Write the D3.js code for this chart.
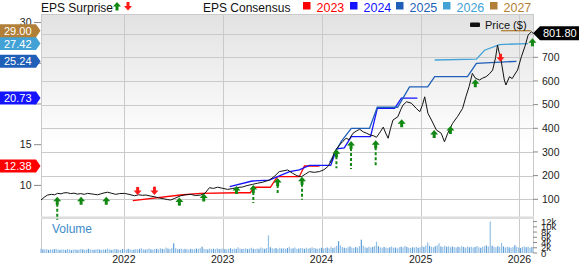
<!DOCTYPE html>
<html><head><meta charset="utf-8">
<script src="https://cdn.jsdelivr.net/npm/d3@7"></script>
<style>body{margin:0;background:#fff}svg{display:block;font-family:"Liberation Sans",Arial,sans-serif}</style>
</head><body>
<svg id="c" width="579" height="264"></svg>
<script>
// ---------- DATA ----------
const years = ["2022","2023","2024","2025","2026"];
const priceTicks = [100,200,300,400,500,600,700];
const epsTicks = [10,15,20,25,30];
const epsTickLabels = ["10","15","","","30"]; // 20 and 25 sit under the badges
const volTicks = [0,2,4,6,8,10,12];
const lastPrice = 801.80;

const priceDates = ["2021-03-01","2021-03-12","2021-03-25","2021-04-09","2021-04-20","2021-05-01","2021-05-14","2021-05-24","2021-06-06","2021-06-18","2021-07-01","2021-07-13","2021-07-26","2021-08-08","2021-08-20","2021-09-02","2021-09-14","2021-09-26","2021-10-08","2021-10-20","2021-11-02","2021-11-15","2021-12-02","2021-12-16","2022-01-03","2022-01-20","2022-02-09","2022-02-24","2022-03-10","2022-03-24","2022-04-08","2022-04-23","2022-05-10","2022-05-29","2022-06-10","2022-06-23","2022-07-08","2022-07-30","2022-08-15","2022-09-05","2022-09-22","2022-10-12","2022-10-28","2022-11-13","2022-11-28","2022-12-13","2022-12-30","2023-01-19","2023-02-05","2023-02-25","2023-03-15","2023-04-01","2023-04-21","2023-05-10","2023-05-28","2023-06-22","2023-07-10","2023-07-29","2023-08-12","2023-08-29","2023-09-16","2023-10-02","2023-10-18","2023-11-02","2023-11-17","2023-12-05","2023-12-24","2024-01-10","2024-01-24","2024-02-08","2024-02-18","2024-03-07","2024-03-20","2024-04-01","2024-04-12","2024-04-26","2024-05-08","2024-05-21","2024-06-03","2024-06-16","2024-06-28","2024-07-12","2024-07-22","2024-08-05","2024-08-16","2024-08-25","2024-09-03","2024-09-12","2024-09-21","2024-10-09","2024-10-20","2024-10-28","2024-11-10","2024-11-28","2024-12-16","2024-12-29","2025-01-08","2025-01-16","2025-01-28","2025-02-10","2025-02-28","2025-03-18","2025-03-30","2025-04-11","2025-04-29","2025-05-17","2025-06-05","2025-06-17","2025-06-29","2025-07-11","2025-07-22","2025-08-06","2025-08-18","2025-08-31","2025-09-12","2025-09-24","2025-10-05","2025-10-12","2025-10-18","2025-10-25","2025-11-06","2025-11-12","2025-11-25","2025-12-05","2025-12-13","2025-12-25","2026-01-08","2026-01-21","2026-02-02","2026-02-14","2026-02-20"];
const priceValues = [97,108,118,121,119,125,123,127,128,124,126,122,124,121,125,123,121,119,123,127,130,126,121,124,125,121,115,119,117,118,114,111,106,102,99,97,104,115,119,121,116,118,126,149,146,151,147,142,145,150,152,158,163,168,172,181,196,217,220,224,210,200,195,206,217,214,217,225,238,265,301,329,345,358,352,379,388,396,385,379,372,368,362,385,405,380,358,400,435,449,480,498,512,506,484,470,500,533,463,435,393,379,343,379,421,449,484,533,576,632,612,604,612,618,630,646,700,752,720,688,604,583,618,610,625,646,702,745,794,808,801.8];

const cons2023Dates = ["2022-02-03","2022-07-29","2022-10-11","2023-02-26","2023-04-13","2023-04-24","2023-06-26","2023-07-22","2023-10-11","2023-10-30","2023-12-24"];
const cons2023Values = [8.12,8.82,9.03,9.10,9.10,9.77,9.77,11.07,11.07,12.38,12.38];
const cons2024Dates = ["2023-01-27","2023-04-20","2023-06-22","2023-09-05","2023-10-11","2023-11-17","2024-02-04","2024-02-26","2024-03-25","2024-04-20","2024-06-30","2024-07-25","2024-09-27","2024-10-22","2024-12-20"];
const cons2024Values = [9.84,10.54,10.66,11.68,11.90,12.45,12.45,14.5,14.6,16.0,16.0,19.47,19.47,20.73,20.73];
const cons2025Dates = ["2024-01-31","2024-03-14","2024-04-20","2024-06-26","2024-07-25","2024-10-08","2024-11-21","2025-01-27","2025-02-22","2025-06-23","2025-07-26","2025-12-21"];
const cons2025Values = [12.8,15.4,17.0,17.0,19.6,19.6,22.1,22.1,23.35,23.35,25.0,25.24];
const cons2026Dates = ["2025-02-22","2025-07-26","2025-08-25","2025-10-19","2026-02-01"];
const cons2026Values = [25.4,25.5,26.6,27.3,27.42];
const cons2027Dates = ["2025-10-25","2026-02-12"];
const cons2027Values = [29.0,29.0];
const consLabels = ["2023","2024","2025","2026","2027"];
const consColors = ["#ff0000","#1414ff","#1f5fb8","#42a2d6","#b27f38"];
const consLast = [12.38,20.73,25.24,27.42,29.00];

const upDates = ["2021-04-30","2021-07-27","2021-10-28","2022-07-25","2022-10-23","2023-02-21","2023-04-24","2023-07-23","2023-10-21","2024-02-25","2024-04-19","2024-07-19","2024-10-23","2025-02-20","2025-04-21","2025-07-22","2026-02-18"];
const upLevels = [111,111,111,108,125,156,160,190,195,311,346,350,438,393,410,607,780];
const upSurprise = [21,4,4,6,4,3,16,13,21,17,26,25,4,3,2,3,3];
const downDates = ["2022-02-21","2022-04-24","2025-10-23"];
const downLevels = [118,118,681];
const downSurprise = [-4,-8,-3];

const volume = [1.6,1.4,1.3,1.5,1.2,1.4,1.3,1.5,1.6,1.3,1.2,1.4,1.3,1.2,1.5,1.3,1.1,1.3,1.4,1.2,
1.3,1.5,1.4,1.2,1.3,1.6,1.4,1.3,1.2,1.4,1.5,1.3,1.2,1.4,1.3,1.7,1.4,1.2,1.3,1.5,
1.4,1.3,1.2,1.5,1.4,1.3,1.6,1.4,1.2,1.3,1.5,1.4,1.6,1.8,1.4,1.3,1.5,1.7,1.4,1.3,
1.5,1.6,1.4,1.8,1.6,1.5,2.1,1.7,1.5,1.9,3.7,1.8,1.6,1.5,1.7,1.4,1.6,1.5,1.3,1.6,
1.5,1.4,1.7,1.6,1.8,2.4,1.6,1.5,1.4,1.7,1.5,1.6,1.4,1.8,1.5,1.6,1.7,1.5,1.4,1.6,
1.8,1.5,1.7,1.6,2.2,1.7,1.5,1.6,1.8,1.5,1.7,2.0,1.6,1.5,1.7,1.6,2.1,1.8,1.6,1.9,
6.7,2.2,1.8,1.7,1.9,1.6,2.0,1.7,1.8,1.6,1.9,2.3,1.7,1.8,2.1,1.6,1.7,1.9,1.8,1.6,
2.0,1.7,1.8,2.2,1.9,1.7,1.6,1.8,2.0,1.7,1.9,2.1,1.8,2.4,1.9,2.2,2.8,4.5,2.9,2.3,
2.0,1.9,2.2,2.5,2.1,1.9,2.3,2.0,2.6,5.1,2.8,2.2,2.0,2.4,2.1,2.3,2.7,4.3,2.6,2.2,
2.0,2.3,2.1,1.9,2.2,2.5,2.0,2.1,1.8,2.2,2.4,2.1,2.7,2.3,2.0,1.9,2.2,2.1,2.4,2.0,
2.2,2.6,2.3,2.9,4.0,2.7,2.4,2.2,2.6,2.9,3.7,2.5,2.3,2.8,2.4,2.6,2.2,2.5,2.3,2.1,
2.4,2.2,2.6,2.3,2.0,2.5,2.2,2.4,2.1,2.3,2.7,2.2,2.0,2.4,2.6,2.9,2.5,12.0,2.8,2.4,
2.2,2.6,2.3,3.8,2.5,2.1,2.4,2.2,2.0,2.3,3.0,2.4,2.1,1.9,2.3,2.5,2.2,2.4,2.0,2.3];
const volumeStart = "2021-03-01";

// ---------- LAYOUT ----------
const L = 41, R = 533, T = 14, PB = 217, VT = 220, VB = 253;
const parse = d3.timeParse("%Y-%m-%d");
const svg = d3.select("#c");
const FONT = '"Liberation Sans", Arial, sans-serif';

const x = d3.scaleTime().domain([parse("2021-03-01"), parse("2026-02-20")]).range([L, R]);
const yP = d3.scaleLinear().domain([100, 700]).range([199.3, 57.3]);
const yE = d3.scaleLinear().domain([10, 29]).range([185.4, 30.7]);
const yV = d3.scaleLinear().domain([0, 12]).range([VB, 221.6]);

const defs = svg.append("defs");
const grad = defs.append("linearGradient").attr("id","bg").attr("x1",0).attr("y1",0).attr("x2",0).attr("y2",1);
grad.append("stop").attr("offset","0%").attr("stop-color","#e2e2e2");
grad.append("stop").attr("offset","65%").attr("stop-color","#ffffff");
defs.append("clipPath").attr("id","clipP").append("rect").attr("x",L).attr("y",T).attr("width",R-L).attr("height",PB-T);

svg.append("rect").attr("x",L).attr("y",T).attr("width",R-L).attr("height",PB-T).attr("fill","url(#bg)");

// gridlines
const grid = svg.append("g").attr("stroke","#cacaca").attr("stroke-width",1).attr("shape-rendering","crispEdges");
[...priceTicks, 800].forEach(v => grid.append("line").attr("x1",L).attr("x2",R).attr("y1",Math.round(yP(v))+0.5).attr("y2",Math.round(yP(v))+0.5));
grid.append("line").attr("x1",L).attr("x2",R).attr("y1",T+0.5).attr("y2",T+0.5);
years.forEach(yr => { const xx = Math.round(x(parse(yr+"-01-01")))+0.5; grid.append("line").attr("x1",xx).attr("x2",xx).attr("y1",T).attr("y2",VB); });
grid.append("line").attr("x1",L+0.5).attr("x2",L+0.5).attr("y1",T).attr("y2",VB);
grid.append("line").attr("x1",R+0.5).attr("x2",R+0.5).attr("y1",T).attr("y2",VB);
svg.append("rect").attr("x",L).attr("y",PB-0.5).attr("width",R-L+1).attr("height",2.5).attr("fill","#dcdcdc");

// volume
const vg = svg.append("g");
const v0 = parse(volumeStart);
vg.selectAll("rect").data(volume).join("rect")
  .attr("x",(d,i)=> x(d3.timeDay.offset(v0, 7*i)) - 0.6)
  .attr("width",1.2)
  .attr("y",d=>yV(d)).attr("height",d=>VB-yV(d))
  .attr("fill",(d,i)=> i%3===1 ? "#5f9fd8" : "#92bfe6");
svg.append("text").attr("x",52).attr("y",233).attr("font-size",12).attr("fill","#3d8bc9").attr("font-family",FONT).text("Volume");

// consensus lines
const cons = [[cons2023Dates,cons2023Values],[cons2024Dates,cons2024Values],[cons2025Dates,cons2025Values],[cons2026Dates,cons2026Values],[cons2027Dates,cons2027Values]];
const cg = svg.append("g").attr("clip-path","url(#clipP)");
const eLine = d3.line().x(d=>x(d[0])).y(d=>yE(d[1]));
cons.forEach((c,k) => {
  const pts = c[0].map((d,i)=>[parse(d), c[1][i]]);
  cg.append("path").attr("d",eLine(pts)).attr("fill","none").attr("stroke",consColors[k]).attr("stroke-width",1.3);
});

// price line
const pts = priceDates.map((d,i)=>[parse(d), priceValues[i]]);
cg.append("path").attr("d", d3.line().x(d=>x(d[0])).y(d=>yP(d[1]))(pts)).attr("fill","none").attr("stroke","#111").attr("stroke-width",1);

// surprise arrows
const ag = svg.append("g");
upDates.forEach((d,i) => {
  const ax = x(parse(d)), ay = yP(upLevels[i]);
  const len = Math.max(0, Math.abs(upSurprise[i]) - 5);
  if (len > 0) ag.append("line").attr("x1",ax).attr("x2",ax).attr("y1",ay+7).attr("y2",ay+7+len).attr("stroke","#118811").attr("stroke-width",2).attr("stroke-dasharray","3,2");
  ag.append("path").attr("d",`M${ax-4},${ay+4.5}L${ax},${ay}L${ax+4},${ay+4.5}L${ax+1.5},${ay+4.5}L${ax+1.5},${ay+8}L${ax-1.5},${ay+8}L${ax-1.5},${ay+4.5}Z`).attr("fill","#118811");
});
downDates.forEach((d,i) => {
  const ax = x(parse(d)), ay = yP(downLevels[i]);
  const len = Math.max(0, Math.abs(downSurprise[i]) - 5);
  if (len > 0) ag.append("line").attr("x1",ax).attr("x2",ax).attr("y1",ay-7).attr("y2",ay-7-len).attr("stroke","#ff1a1a").attr("stroke-width",2).attr("stroke-dasharray","1.5,1.5");
  ag.append("path").attr("d",`M${ax-4},${ay-4.5}L${ax},${ay}L${ax+4},${ay-4.5}L${ax+1.5},${ay-4.5}L${ax+1.5},${ay-8}L${ax-1.5},${ay-8}L${ax-1.5},${ay-4.5}Z`).attr("fill","#ff1a1a");
});

// right price axis
const ra = svg.append("g").attr("font-family",FONT).attr("font-size",10.5).attr("fill","#222");
priceTicks.forEach(v => {
  ra.append("line").attr("x1",R).attr("x2",R+5).attr("y1",yP(v)).attr("y2",yP(v)).attr("stroke","#888");
  ra.append("text").attr("x",R+9).attr("y",yP(v)+3.8).text(v);
});
volTicks.forEach(v => {
  ra.append("line").attr("x1",R).attr("x2",R+4).attr("y1",yV(v)).attr("y2",yV(v)).attr("stroke","#888");
  ra.append("text").attr("x",R+8).attr("y",yV(v)+3.5).attr("font-size",9.5).text(v===0?"0":v+"k");
});
// left EPS axis
const la = svg.append("g").attr("font-family",FONT).attr("font-size",10.5).attr("fill","#222");
epsTicks.forEach((v,i) => {
  la.append("line").attr("x1",34).attr("x2",L).attr("y1",yE(v)).attr("y2",yE(v)).attr("stroke","#888");
  if (epsTickLabels[i]) la.append("text").attr("x",31.5).attr("y",yE(v)+3.8).attr("text-anchor","end").text(epsTickLabels[i]);
});
// left badges
consLast.forEach((v,k) => {
  const cy = yE(v);
  svg.append("path").attr("d",`M0,${cy-6.5}L36,${cy-6.5}L40.5,${cy}L36,${cy+6.5}L0,${cy+6.5}Z`).attr("fill",consColors[k]);
  svg.append("text").attr("x",4).attr("y",cy+4).attr("font-family",FONT).attr("font-size",11).attr("fill","#fff").text(v.toFixed(2));
});
// right price badge
{
  const cy = yP(lastPrice);
  svg.append("path").attr("d",`M${R},${cy}L${R+7},${cy-7}L579,${cy-7}L579,${cy+7}L${R+7},${cy+7}Z`).attr("fill","#000");
  svg.append("text").attr("x",543).attr("y",cy+4).attr("font-family",FONT).attr("font-size",11).attr("fill","#fff").text(lastPrice.toFixed(2));
}
// price legend
svg.append("rect").attr("x",470).attr("y",22.5).attr("width",10).attr("height",4.5).attr("rx",1).attr("fill","#111");
svg.append("text").attr("x",485).attr("y",29).attr("font-family",FONT).attr("font-size",11).attr("fill","#111").text("Price ($)");

// x axis labels
years.forEach(yr => svg.append("text").attr("x",x(parse(yr+"-01-01"))).attr("y",263).attr("text-anchor","middle").attr("font-family",FONT).attr("font-size",10.5).attr("fill","#222").text(yr));

// header
svg.append("text").attr("x",41).attr("y",11.5).attr("font-family",FONT).attr("font-size",12).attr("fill","#111").text("EPS Surprise");
svg.append("path").attr("d","M113,6.5L117,2L121,6.5L118.5,6.5L118.5,10.5L115.5,10.5L115.5,6.5Z").attr("fill","#118811");
svg.append("path").attr("d","M124,6L128,10.5L132,6L129.5,6L129.5,2L126.5,2L126.5,6Z").attr("fill","#ff1a1a");
svg.append("text").attr("x",203).attr("y",11.5).attr("font-family",FONT).attr("font-size",12).attr("fill","#111").text("EPS Consensus");
const legX = [303,350,396,443,490];
consLabels.forEach((lab,k) => {
  svg.append("rect").attr("x",legX[k]).attr("y",2).attr("width",7.5).attr("height",7.5).attr("fill",consColors[k]);
  svg.append("text").attr("x",legX[k]+13.5).attr("y",11.5).attr("font-family",FONT).attr("font-size",12.5).attr("fill",consColors[k]).text(lab);
});
</script>
</body></html>
